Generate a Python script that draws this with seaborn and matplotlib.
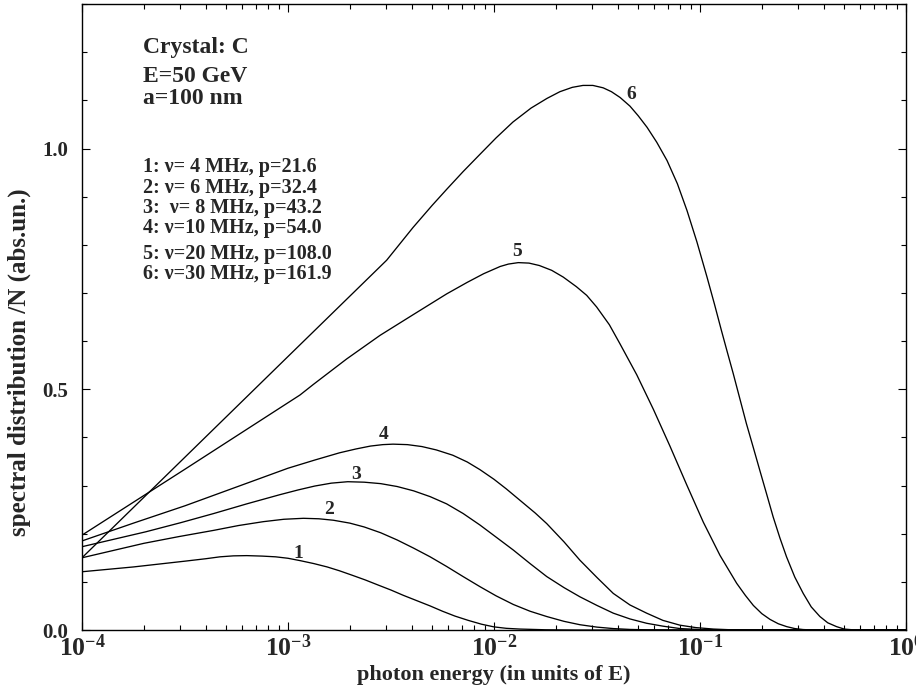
import numpy as np
import pandas as pd
import matplotlib
matplotlib.use("Agg")
import matplotlib.pyplot as plt
import matplotlib.ticker as mticker
import seaborn as sns

# ---- data (log10 of photon energy, spectral value) ----
log_e1 = [-4.0, -3.875, -3.75, -3.625, -3.5, -3.4, -3.33, -3.265, -3.2, -3.125,
          -3.06, -3.0, -2.94, -2.875, -2.81, -2.75, -2.69, -2.625, -2.56, -2.5,
          -2.44, -2.375, -2.31, -2.25, -2.19, -2.125, -2.06, -2.0, -1.94, -1.875,
          -1.75, -1.6, 0.0]
spec1 = [0.121, 0.126, 0.131, 0.137, 0.143, 0.148, 0.152, 0.154, 0.1545, 0.1535,
         0.152, 0.149, 0.144, 0.138, 0.131, 0.123, 0.114, 0.104, 0.093, 0.083,
         0.072, 0.061, 0.050, 0.039, 0.029, 0.020, 0.012, 0.0065, 0.0035, 0.002,
         0.0005, 0.0, 0.0]

log_e2 = [-4.0, -3.85, -3.70, -3.53, -3.36, -3.24, -3.12, -3.02, -2.925, -2.85,
          -2.78, -2.70, -2.63, -2.55, -2.47, -2.39, -2.31, -2.23, -2.15, -2.068,
          -1.99, -1.906, -1.825, -1.744, -1.66, -1.583, -1.50, -1.421, -1.34,
          -1.26, -1.1, 0.0]
spec2 = [0.150, 0.165, 0.180, 0.194, 0.207, 0.217, 0.225, 0.230, 0.232, 0.231,
         0.228, 0.222, 0.214, 0.202, 0.187, 0.170, 0.152, 0.132, 0.111, 0.090,
         0.071, 0.053, 0.039, 0.028, 0.018, 0.011, 0.006, 0.003, 0.0012,
         0.0005, 0.0, 0.0]

log_e3 = [-4.0, -3.85, -3.69, -3.52, -3.36, -3.2, -3.04, -2.95, -2.87, -2.79,
          -2.71, -2.63, -2.55, -2.47, -2.39, -2.31, -2.23, -2.15, -2.068, -1.99,
          -1.906, -1.825, -1.744, -1.66, -1.583, -1.50, -1.421, -1.34, -1.259,
          -1.18, -1.097, -1.0, -0.9, 0.0]
spec3 = [0.173, 0.188, 0.204, 0.223, 0.242, 0.262, 0.281, 0.291, 0.299, 0.305,
         0.308, 0.307, 0.304, 0.298, 0.289, 0.277, 0.262, 0.242, 0.218, 0.193,
         0.166, 0.138, 0.111, 0.088, 0.069, 0.051, 0.035, 0.023, 0.014,
         0.008, 0.003, 0.001, 0.0, 0.0]

log_e4 = [-4.0, -3.75, -3.5, -3.25, -3.0, -2.87, -2.75, -2.67, -2.6, -2.54,
          -2.49, -2.42, -2.35, -2.28, -2.2, -2.13, -2.068, -2.0, -1.94, -1.87,
          -1.80, -1.744, -1.66, -1.583, -1.50, -1.421, -1.34, -1.259, -1.18,
          -1.097, -1.02, -0.935, -0.85, -0.75, 0.0]
spec4 = [0.185, 0.222, 0.258, 0.297, 0.336, 0.353, 0.368, 0.376, 0.382, 0.385,
         0.386, 0.385, 0.381, 0.374, 0.363, 0.349, 0.333, 0.313, 0.293, 0.268,
         0.243, 0.221, 0.183, 0.145, 0.109, 0.076, 0.052, 0.035, 0.020,
         0.010, 0.005, 0.002, 0.0005, 0.0, 0.0]

log_e5 = [-4.0, -3.5, -2.942, -2.877, -2.715, -2.553, -2.392, -2.23, -2.13,
          -2.05, -1.97, -1.93, -1.882, -1.83, -1.78, -1.72, -1.664, -1.60,
          -1.55, -1.502, -1.44, -1.388, -1.307, -1.226, -1.146, -1.065, -0.984,
          -0.903, -0.822, -0.78, -0.741, -0.70, -0.660, -0.62, -0.579, -0.54,
          -0.50, -0.45, 0.0]
spec5 = [0.197, 0.334, 0.488, 0.510, 0.563, 0.612, 0.655, 0.698, 0.722,
         0.740, 0.755, 0.760, 0.763, 0.762, 0.757, 0.747, 0.733, 0.713,
         0.695, 0.671, 0.634, 0.594, 0.530, 0.458, 0.382, 0.302, 0.224,
         0.155, 0.097, 0.072, 0.051, 0.034, 0.022, 0.013, 0.007, 0.003,
         0.001, 0.0, 0.0]

log_e6 = [-4.0, -3.5, -3.0, -2.521, -2.393, -2.30, -2.228, -2.15, -2.068, -1.99,
          -1.908, -1.82, -1.743, -1.68, -1.62, -1.568, -1.52, -1.47, -1.43,
          -1.388, -1.34, -1.30, -1.257, -1.21, -1.16, -1.11, -1.063, -1.015,
          -0.966, -0.93, -0.896, -0.868, -0.839, -0.807, -0.775, -0.742, -0.710,
          -0.677, -0.645, -0.612, -0.580, -0.54, -0.499, -0.46, -0.418, -0.38,
          -0.337, -0.30, -0.26, -0.2, 0.0]
spec6 = [0.150, 0.359, 0.568, 0.768, 0.836, 0.882, 0.916, 0.952, 0.988, 1.022,
         1.055, 1.084, 1.104, 1.118, 1.127, 1.131, 1.131, 1.126, 1.118,
         1.106, 1.088, 1.068, 1.044, 1.013, 0.975, 0.927, 0.871, 0.806,
         0.733, 0.677, 0.622, 0.578, 0.533, 0.481, 0.429, 0.380, 0.332,
         0.283, 0.235, 0.191, 0.152, 0.110, 0.076, 0.048, 0.028, 0.015,
         0.007, 0.002, 0.0005, 0.0, 0.0]

curve_names = ["1", "2", "3", "4", "5", "6"]
label_log_e = [-2.95, -2.80, -2.67, -2.537, -1.887, -1.336]
label_spec = [0.159, 0.250, 0.322, 0.406, 0.787, 1.113]

header_lines = ["Crystal: C", "E=50 GeV", "a=100 nm"]
legend_lines = ["1: ν= 4 MHz, p=21.6",
                "2: ν= 6 MHz, p=32.4",
                "3:  ν= 8 MHz, p=43.2",
                "4: ν=10 MHz, p=54.0",
                "5: ν=20 MHz, p=108.0",
                "6: ν=30 MHz, p=161.9"]

xlabel = "photon energy (in units of E)"
ylabel = "spectral distribution /N (abs.un.)"

# ---- build long table ----
all_log = [log_e1, log_e2, log_e3, log_e4, log_e5, log_e6]
all_spec = [spec1, spec2, spec3, spec4, spec5, spec6]
frames = []
for name, le, sp in zip(curve_names, all_log, all_spec):
    frames.append(pd.DataFrame({"energy": np.power(10.0, le),
                                "spec": sp, "curve": name}))
df = pd.concat(frames, ignore_index=True)

# ---- style ----
sns.set_theme(style="ticks")
plt.rcParams["font.family"] = ["Liberation Serif", "DejaVu Serif"]
plt.rcParams["font.weight"] = "bold"
plt.rcParams["mathtext.fontset"] = "custom"
plt.rcParams["mathtext.rm"] = "Liberation Serif:bold"
plt.rcParams["mathtext.it"] = "Liberation Serif:bold:italic"
plt.rcParams["mathtext.bf"] = "Liberation Serif:bold"
plt.rcParams["mathtext.default"] = "rm"

fig = plt.figure(figsize=(9.16, 6.98), dpi=100)
ax = fig.add_axes([0.0895, 0.0974, 0.8996, 0.8968])

sns.lineplot(data=df, x="energy", y="spec", units="curve", estimator=None,
             sort=False, color="black", linewidth=0.95, ax=ax)

ax.set_xscale("log")
ax.set_xlim(1e-4, 1.0)
ax.set_ylim(0.0, 1.3)

ax.xaxis.set_major_locator(mticker.LogLocator(base=10, numticks=10))
ax.xaxis.set_minor_locator(mticker.LogLocator(base=10, subs=np.arange(2, 10), numticks=20))
ax.xaxis.set_minor_formatter(mticker.NullFormatter())
ax.yaxis.set_major_locator(mticker.FixedLocator([0.0, 0.5, 1.0]))
ax.yaxis.set_minor_locator(mticker.MultipleLocator(0.1))
ax.yaxis.set_major_formatter(mticker.FormatStrFormatter("%.1f"))

for s in ax.spines.values():
    s.set_linewidth(1.0)
    s.set_color("black")

ax.tick_params(which="both", direction="in", top=True, right=True,
               color="black", width=0.8)
ax.tick_params(which="major", length=6)
ax.tick_params(which="minor", length=3.6)
ax.tick_params(axis="x", which="major", labelsize=18.5, pad=3)
ax.tick_params(axis="y", which="major", labelsize=15, pad=10)
for lab in ax.get_xticklabels() + ax.get_yticklabels():
    lab.set_fontweight("bold")

ax.set_xlabel(xlabel, fontsize=16, fontweight="bold", labelpad=3)
ax.set_ylabel(ylabel, fontsize=18, fontweight="bold")
ax.yaxis.set_label_coords(-0.062, 0.428)

# curve labels
for name, le, sp in zip(curve_names, label_log_e, label_spec):
    ax.text(10 ** le, sp, name, fontsize=14, fontweight="bold",
            ha="center", va="center")

# header text
header_y = [0.922, 0.876, 0.840]
for txt, yy in zip(header_lines, header_y):
    ax.text(0.074, yy, txt, transform=ax.transAxes, fontsize=17,
            fontweight="bold", ha="left", va="baseline")

legend_y = [0.7321, 0.6986, 0.6656, 0.6337, 0.5922, 0.5602]
for txt, yy in zip(legend_lines, legend_y):
    ax.text(0.0737, yy, txt, transform=ax.transAxes, fontsize=14.5,
            fontweight="bold", ha="left", va="baseline")

fig.savefig("out.png", dpi=100)
